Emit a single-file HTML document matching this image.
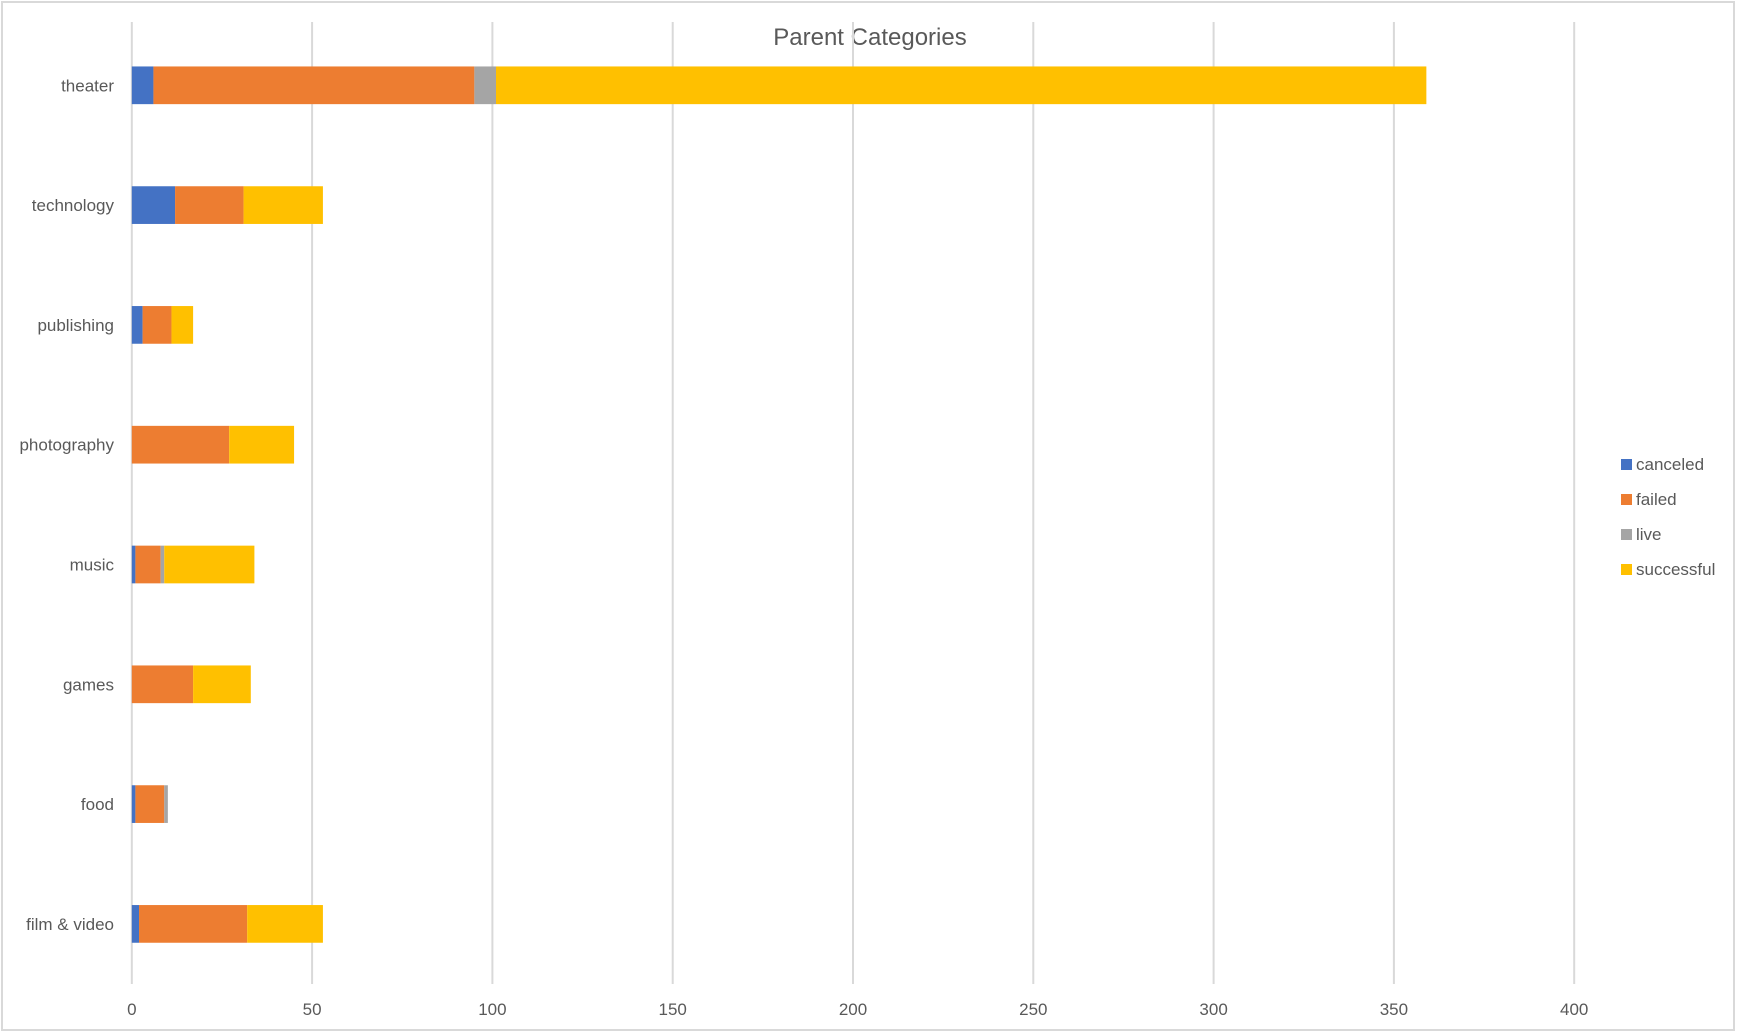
<!DOCTYPE html>
<html><head><meta charset="utf-8"><style>
html,body{margin:0;padding:0;background:#fff;}
svg{display:block;font-family:"Liberation Sans",sans-serif;}
</style></head><body>
<svg id="chart" width="1737" height="1033" viewBox="0 0 1737 1033">
<rect x="2" y="2" width="1732" height="1028" fill="#fff" stroke="#d9d9d9" stroke-width="2"/>
<text x="870" y="45" text-anchor="middle" font-size="24" fill="#595959">Parent Categories</text>
<g id="grid"></g><g id="bars"></g><g id="ylabels"></g><g id="xlabels"></g><g id="legend"></g>
</svg>
<script>
const categories = ["theater","technology","publishing","photography","music","games","food","film & video"];
const seriesNames = ["canceled","failed","live","successful"];
const canceled = [6,12,3,0,1,0,1,2];
const failed = [89,19,8,27,7,17,8,30];
const live = [6,0,0,0,1,0,1,0];
const successful = [258,22,6,18,25,16,0,21];
const xTicks = [0,50,100,150,200,250,300,350,400];
const colors = ["#4472C4","#ED7D31","#A5A5A5","#FFC000"];
const series = [canceled, failed, live, successful];
const NS = "http://www.w3.org/2000/svg";
const x0 = 131.8, unit = 3.606, gTop = 22, gBot = 984, rowTop = 85.3, rowStep = 119.8, barH = 37.7;
function xs(v){ return x0 + v*unit; }
function ys(i){ return rowTop + i*rowStep; }
function mk(tag, attrs, parent){ const e=document.createElementNS(NS,tag); for(const k in attrs) e.setAttribute(k,attrs[k]); document.getElementById(parent).appendChild(e); return e; }
xTicks.forEach(t=>{
  const l = mk("line",{x1:xs(t),x2:xs(t),y1:gTop,y2:gBot,stroke:"#d9d9d9","stroke-width":2},"grid");
  
  
  const tx = mk("text",{x:xs(t),y:1015,"text-anchor":"middle","font-size":17,fill:"#595959"},"xlabels");
  tx.textContent = t;
  
  
});
categories.forEach((c,i)=>{
  let acc = 0;
  series.forEach((s,k)=>{
    const v = s[i];
    if (v > 0) {
      const r = mk("rect",{x:xs(acc),y:ys(i)-barH/2,width:v*unit,height:barH,fill:colors[k]},"bars");
      
      
    }
    acc += v;
  });
  const t = mk("text",{x:114,y:ys(i)+6,"text-anchor":"end","font-size":17,fill:"#595959"},"ylabels");
  t.textContent = c;
  
  
});
seriesNames.forEach((n,k)=>{
  const y = 465 + k*35;
  const r = mk("rect",{x:1621,y:y-6,width:11,height:11,fill:colors[k]},"legend");
  
  
  const t = mk("text",{x:1636,y:y+5,"font-size":17,fill:"#595959"},"legend");
  t.textContent = n;
  
  
});
</script>
</body></html>
